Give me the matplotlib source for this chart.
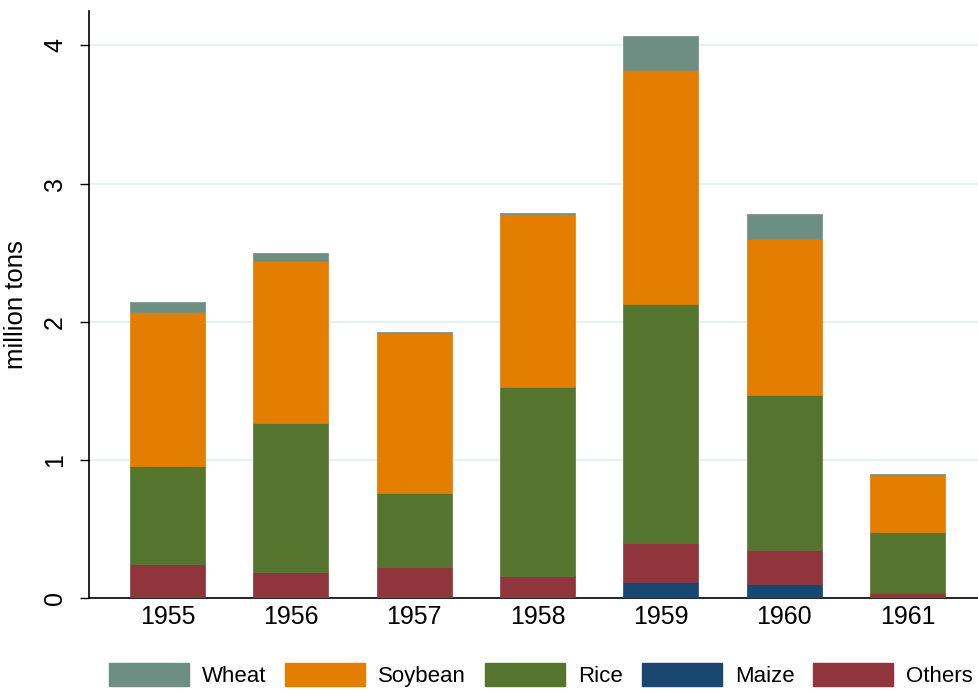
import matplotlib
matplotlib.use("Agg")
import matplotlib.pyplot as plt
import numpy as np
from matplotlib.patches import Patch

years = ["1955", "1956", "1957", "1958", "1959", "1960", "1961"]
maize = [0.0, 0.0, 0.0, 0.0, 0.12, 0.10, 0.0]
others = [0.25, 0.19, 0.23, 0.16, 0.28, 0.25, 0.04]
rice = [0.71, 1.08, 0.53, 1.37, 1.73, 1.12, 0.44]
soybean = [1.11, 1.17, 1.16, 1.25, 1.69, 1.13, 0.415]
wheat = [0.07, 0.06, 0.007, 0.009, 0.25, 0.18, 0.007]

series = [("Maize", maize, "#1a476f"),
          ("Others", others, "#90353b"),
          ("Rice", rice, "#55752f"),
          ("Soybean", soybean, "#e37e00"),
          ("Wheat", wheat, "#6e8e84")]
legend_order = ["Wheat", "Soybean", "Rice", "Maize", "Others"]

plt.rcParams['font.family'] = ['Liberation Sans', 'DejaVu Sans']
FS = 18
LFS = 16

fig = plt.figure(figsize=(9.79, 6.92), dpi=100)
ax = fig.add_axes([88.7/979, 93.7/692, (979-88.7)/979, (598.3-10.7)/692])

x = np.arange(1, len(years) + 1)
bottom = np.zeros(len(years))
colors = {}
for name, vals, col in series:
    v = np.array(vals)
    ax.bar(x, v, width=0.607, bottom=bottom, color=col, edgecolor=col,
           linewidth=0.5, zorder=3)
    bottom += v
    colors[name] = col

ax.set_xlim(0.362, 7.579)
ax.set_ylim(0, 4.25)
ax.set_yticks([0, 1, 2, 3, 4])
ax.set_xticks(x)
ax.set_xticklabels(years, fontsize=FS)
ax.tick_params(axis='x', length=0, pad=5)
ax.tick_params(axis='y', length=6.5, width=1, pad=9, labelsize=FS, labelrotation=90)
for lab in ax.get_yticklabels():
    lab.set_va('center')
ax.yaxis.grid(True, color='#e9f0f3', linewidth=1.6, zorder=0)
ax.set_axisbelow(True)
for s in ['top', 'right']:
    ax.spines[s].set_visible(False)
ax.spines['left'].set_linewidth(1.2)
ax.spines['bottom'].set_linewidth(1.2)
ax.set_ylabel("million tons", fontsize=18.5, labelpad=11)

handles = [Patch(facecolor=colors[n], edgecolor=colors[n]) for n in legend_order]
leg = fig.legend(handles, legend_order, loc='lower left',
                 bbox_to_anchor=(109/979, 5/692), ncol=5, frameon=False,
                 fontsize=LFS, handlelength=3.6, handleheight=1.22,
                 handletextpad=0.585, columnspacing=0.85, borderpad=0,
                 borderaxespad=0)

fig.savefig("out.png", dpi=100)
